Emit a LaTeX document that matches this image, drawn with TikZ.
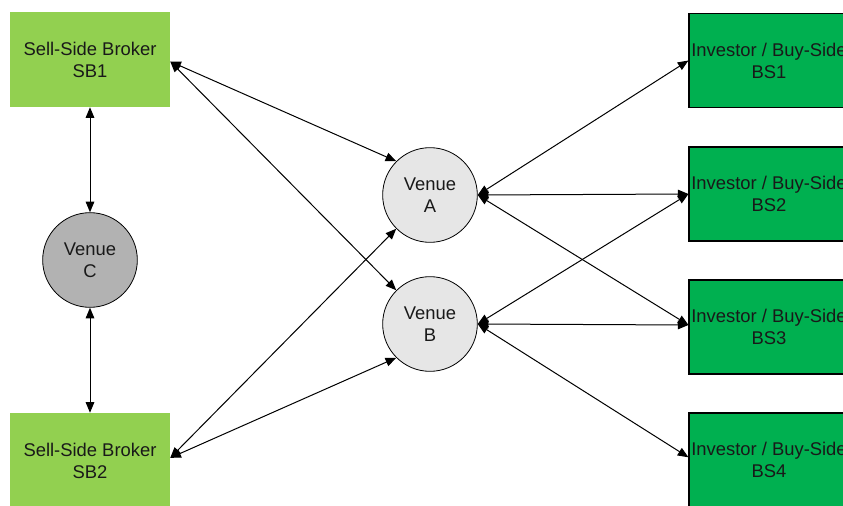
\documentclass[tikz,border=0pt]{standalone}
\usepackage{fontspec}
\setmainfont{Liberation Sans}
\usetikzlibrary{arrows.meta}
\definecolor{sbgreen}{HTML}{92D050}
\definecolor{bsgreen}{HTML}{00B050}
\definecolor{venlight}{HTML}{E6E6E6}
\definecolor{vendark}{HTML}{B2B2B2}
\tikzset{
  every node/.style={font=\fontsize{13.8}{16.5}\selectfont, align=center, text=black!90},
  sbbox/.style={fill=sbgreen, draw=none, minimum width=120pt, minimum height=71.25pt, inner sep=0pt},
  bsbox/.style={fill=bsgreen, draw=black, line width=0.8pt, minimum width=120pt, minimum height=70.5pt, inner sep=0pt},
  venue/.style={circle, draw=black, line width=0.6pt, minimum size=71pt, inner sep=0pt},
  link/.style={line width=0.75pt, {Triangle[length=8pt,width=6.5pt]}-{Triangle[length=8pt,width=6.5pt]}},
}
\begin{document}
\begin{tikzpicture}[x=0.75pt,y=-0.75pt]
\useasboundingbox (0,0) rectangle (843,506);
\clip (0,0) rectangle (843,506);
% left boxes
\node[sbbox] (SB1) at (90,59.5) {Sell-Side Broker\\SB1};
\node[sbbox] (SB2) at (90,460.5) {Sell-Side Broker\\SB2};
% venues
\node[venue, fill=vendark] (VC) at (90,260) {Venue\\C};
\node[venue, fill=venlight] (VA) at (430,195) {Venue\\A};
\node[venue, fill=venlight] (VB) at (430,324) {Venue\\B};
% right boxes
\node[bsbox] (BS1) at (769,60.5) {Investor / Buy-Side\\BS1};
\node[bsbox] (BS2) at (769,194) {Investor / Buy-Side\\BS2};
\node[bsbox] (BS3) at (769,327) {Investor / Buy-Side\\BS3};
\node[bsbox] (BS4) at (769,460) {Investor / Buy-Side\\BS4};
% connectors
\draw[link] (SB1.south) -- (VC.north);
\draw[link] (VC.south) -- (SB2.north);
\draw[link] ([yshift=-1.5pt]SB1.east) -- (VA.135);
\draw[link] ([yshift=-1.5pt]SB1.east) -- (VB.135);
\draw[link] ([yshift=2pt]SB2.east) -- (VA.225);
\draw[link] ([yshift=2pt]SB2.east) -- (VB.225);
\draw[link] (VA.east) -- (BS1.west);
\draw[link] (VA.east) -- (BS2.west);
\draw[link] (VA.east) -- ([yshift=1.5pt]BS3.west);
\draw[link] (VB.east) -- (BS2.west);
\draw[link] (VB.east) -- ([yshift=1.5pt]BS3.west);
\draw[link] (VB.east) -- ([yshift=2pt]BS4.west);
\end{tikzpicture}
\end{document}
